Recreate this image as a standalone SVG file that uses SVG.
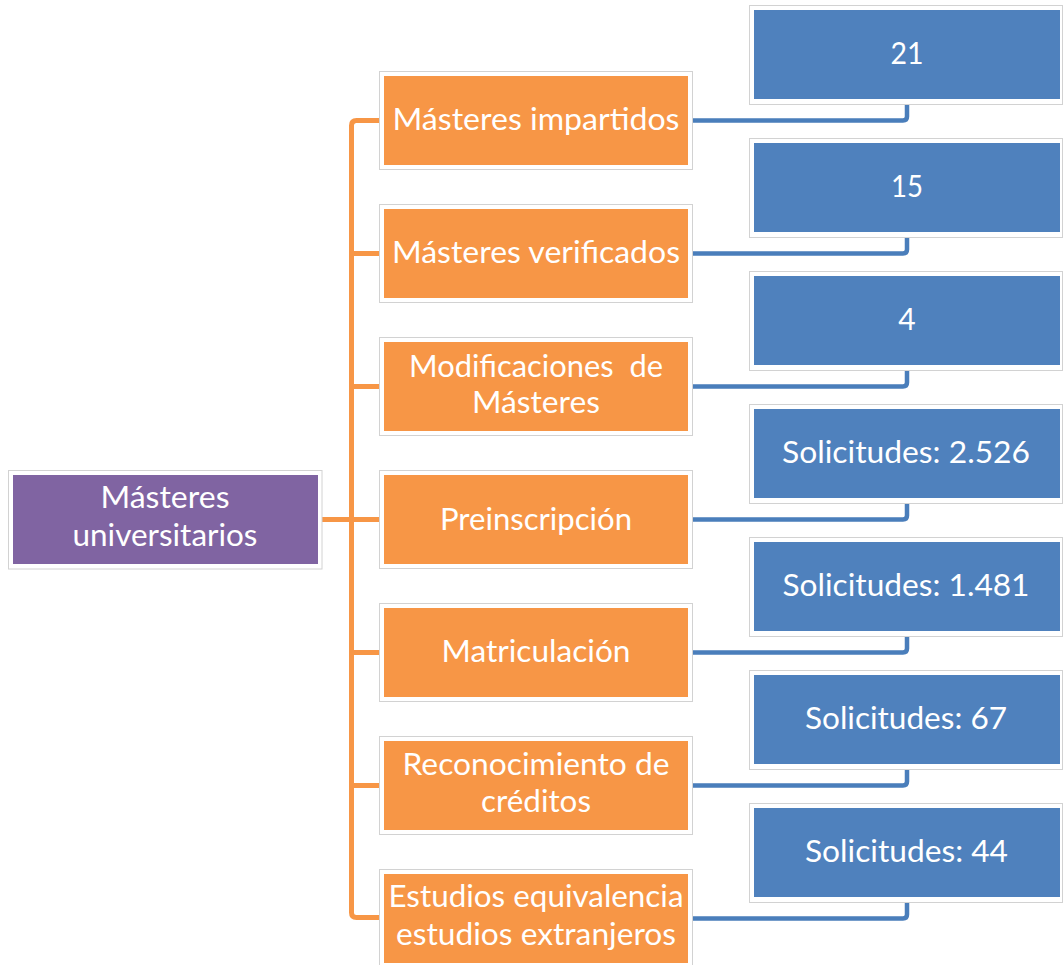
<svg xmlns="http://www.w3.org/2000/svg" width="1063" height="965" viewBox="0 0 1063 965">
<style>
.frame{fill:#ffffff;stroke:#d2d2d2;stroke-width:1}
.p{fill:#8064a2}
.o{fill:#f79646}
.b{fill:#4f81bd}
.t{font-family:Lato,"Open Sans","Liberation Sans",sans-serif;font-size:30px;fill:#ffffff;text-anchor:middle}
.pre{white-space:pre}
.lo{fill:none;stroke:#f79646;stroke-width:5}
.lb{fill:none;stroke:#4a7ebb;stroke-width:4.5}
</style>
<rect width="1063" height="965" fill="#ffffff"/>
<g id="connectors">
<path class="lo" d="M322 519.5 H379"/>
<path class="lo" d="M379 120.5 H356.5 Q351.5 120.5 351.5 125.5 V912.5 Q351.5 917.5 356.5 917.5 H379"/>
<path class="lo" d="M351.5 253.5 H379"/>
<path class="lo" d="M351.5 386.5 H379"/>
<path class="lo" d="M351.5 652.5 H379"/>
<path class="lo" d="M351.5 785.5 H379"/>
<path class="lb" d="M693 120.5 H903 Q907 120.5 907 116.5 V104"/>
<path class="lb" d="M693 253.5 H903 Q907 253.5 907 249.5 V237"/>
<path class="lb" d="M693 386.5 H903 Q907 386.5 907 382.5 V370"/>
<path class="lb" d="M693 519.5 H903 Q907 519.5 907 515.5 V503"/>
<path class="lb" d="M693 652.5 H903 Q907 652.5 907 648.5 V636"/>
<path class="lb" d="M693 785.5 H903 Q907 785.5 907 781.5 V769"/>
<path class="lb" d="M693 918.5 H903 Q907 918.5 907 914.5 V902"/>
</g>
<g id="root">
<rect class="frame" x="8.5" y="470.5" width="313.5" height="98.5"/>
<rect class="p" x="13" y="475" width="305" height="89"/>
<text class="t" x="165" y="508" textLength="129" lengthAdjust="spacingAndGlyphs">Másteres</text>
<text class="t" x="165" y="546" textLength="185" lengthAdjust="spacingAndGlyphs">universitarios</text>
</g>
<g id="o1">
<rect class="frame" x="379.5" y="71.5" width="313" height="98"/>
<rect class="o" x="384" y="76" width="304" height="89"/>
<text class="t" x="536" y="130" textLength="287" lengthAdjust="spacingAndGlyphs">Másteres impartidos</text>
</g>
<g id="o2">
<rect class="frame" x="379.5" y="204.5" width="313" height="98"/>
<rect class="o" x="384" y="209" width="304" height="89"/>
<text class="t" x="536" y="263" textLength="288" lengthAdjust="spacingAndGlyphs">Másteres verificados</text>
</g>
<g id="o3">
<rect class="frame" x="379.5" y="337.5" width="313" height="98"/>
<rect class="o" x="384" y="342" width="304" height="89"/>
<text class="t pre" x="536" y="377" textLength="254" lengthAdjust="spacingAndGlyphs">Modificaciones  de</text>
<text class="t" x="536" y="413" textLength="128" lengthAdjust="spacingAndGlyphs">Másteres</text>
</g>
<g id="o4">
<rect class="frame" x="379.5" y="470.5" width="313" height="98"/>
<rect class="o" x="384" y="475" width="304" height="89"/>
<text class="t" x="536" y="530" textLength="192" lengthAdjust="spacingAndGlyphs">Preinscripción</text>
</g>
<g id="o5">
<rect class="frame" x="379.5" y="603.5" width="313" height="98"/>
<rect class="o" x="384" y="608" width="304" height="89"/>
<text class="t" x="536" y="662" textLength="189" lengthAdjust="spacingAndGlyphs">Matriculación</text>
</g>
<g id="o6">
<rect class="frame" x="379.5" y="736.5" width="313" height="98"/>
<rect class="o" x="384" y="741" width="304" height="89"/>
<text class="t" x="536" y="775" textLength="267" lengthAdjust="spacingAndGlyphs">Reconocimiento de</text>
<text class="t" x="536" y="812" textLength="110" lengthAdjust="spacingAndGlyphs">créditos</text>
</g>
<g id="o7">
<rect class="frame" x="379.5" y="869.5" width="313" height="98"/>
<rect class="o" x="384" y="874" width="304" height="89"/>
<text class="t" x="536" y="907" textLength="295" lengthAdjust="spacingAndGlyphs">Estudios equivalencia</text>
<text class="t" x="536" y="945" textLength="280" lengthAdjust="spacingAndGlyphs">estudios extranjeros</text>
</g>
<g id="b1">
<rect class="frame" x="749.5" y="5.5" width="313" height="99"/>
<rect class="b" x="754" y="10" width="306" height="89"/>
<text class="t" x="907" y="63.5" textLength="33" lengthAdjust="spacingAndGlyphs">21</text>
</g>
<g id="b2">
<rect class="frame" x="749.5" y="138.5" width="313" height="99"/>
<rect class="b" x="754" y="143" width="306" height="89"/>
<text class="t" x="907" y="196.5" textLength="32" lengthAdjust="spacingAndGlyphs">15</text>
</g>
<g id="b3">
<rect class="frame" x="749.5" y="271.5" width="313" height="99"/>
<rect class="b" x="754" y="276" width="306" height="89"/>
<text class="t" x="907" y="329.5">4</text>
</g>
<g id="b4">
<rect class="frame" x="749.5" y="404.5" width="313" height="99"/>
<rect class="b" x="754" y="409" width="306" height="89"/>
<text class="t" x="906" y="462.5" textLength="248" lengthAdjust="spacingAndGlyphs">Solicitudes: 2.526</text>
</g>
<g id="b5">
<rect class="frame" x="749.5" y="537.5" width="313" height="99"/>
<rect class="b" x="754" y="542" width="306" height="89"/>
<text class="t" x="906" y="595.5" textLength="247" lengthAdjust="spacingAndGlyphs">Solicitudes: 1.481</text>
</g>
<g id="b6">
<rect class="frame" x="749.5" y="670.5" width="313" height="99"/>
<rect class="b" x="754" y="675" width="306" height="89"/>
<text class="t" x="906" y="728.5" textLength="202" lengthAdjust="spacingAndGlyphs">Solicitudes: 67</text>
</g>
<g id="b7">
<rect class="frame" x="749.5" y="803.5" width="313" height="99"/>
<rect class="b" x="754" y="808" width="306" height="89"/>
<text class="t" x="906.5" y="861.5" textLength="203" lengthAdjust="spacingAndGlyphs">Solicitudes: 44</text>
</g>
</svg>
